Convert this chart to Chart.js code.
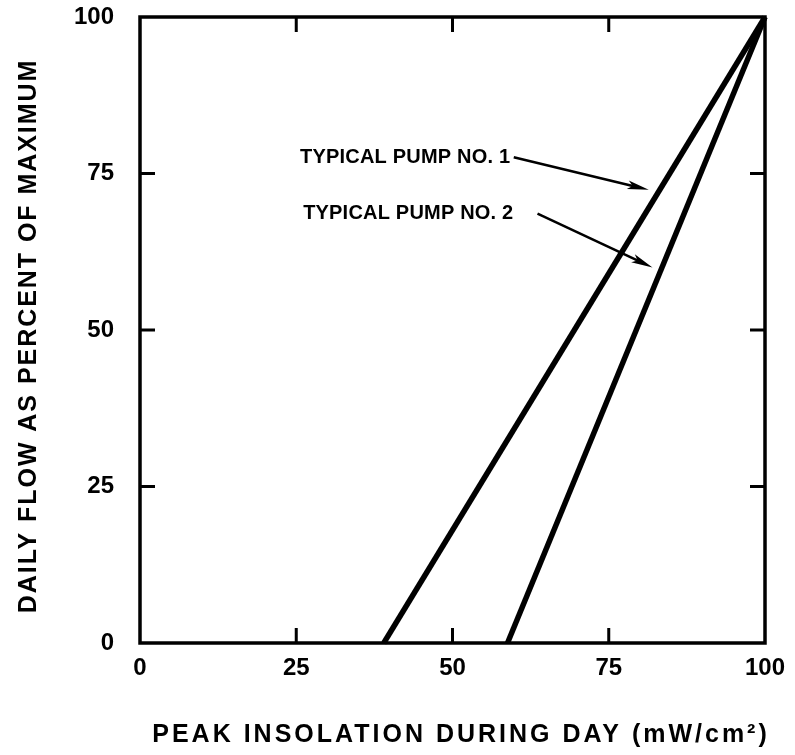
<!DOCTYPE html>
<html>
<head>
<meta charset="utf-8">
<script src="https://cdn.jsdelivr.net/npm/chart.js@4.4.1/dist/chart.umd.min.js"></script>
<style>
html,body{margin:0;padding:0;background:#fff;}
#wrap{width:795px;height:755px;position:relative;}
</style>
</head>
<body>
<div id="wrap"><canvas id="c" width="795" height="755"></canvas></div>
<script>
// ---- data ----
const xTickValues = [0, 25, 50, 75, 100];
const yTickValues = [0, 25, 50, 75, 100];
const pump1X = [39, 100];
const pump1Y = [0, 100];
const pump2X = [58.8, 100];
const pump2Y = [0, 100];
const seriesNames = ['TYPICAL PUMP NO. 1', 'TYPICAL PUMP NO. 2'];
const labelPos1 = [25.6, 77.6];
const arrow1 = [[59.8, 77.6], [81.4, 72.4]];
const labelPos2 = [26.1, 68.6];
const arrow2 = [[63.6, 68.6], [82.0, 60.0]];
const xTitle = 'PEAK INSOLATION DURING DAY (mW/cm²)';
const yTitle = 'DAILY FLOW AS PERCENT OF MAXIMUM';

const FONT = '"Liberation Sans", Arial, sans-serif';

const toPts = (xs, ys) => xs.map((x, i) => ({x: x, y: ys[i]}));

const framePlugin = {
  id: 'frame',
  afterDatasetsDraw(chart) {
    const {ctx, chartArea: a, scales: {x, y}} = chart;
    ctx.save();
    ctx.strokeStyle = '#000';
    ctx.lineWidth = 3.5;
    ctx.lineCap = 'square';
    ctx.strokeRect(a.left, a.top, a.right - a.left, a.bottom - a.top);
    // inward ticks
    ctx.lineWidth = 3;
    ctx.lineCap = 'butt';
    const tl = 15;
    ctx.beginPath();
    xTickValues.slice(1, -1).forEach(v => {
      const px = x.getPixelForValue(v);
      ctx.moveTo(px, a.bottom); ctx.lineTo(px, a.bottom - tl);
      ctx.moveTo(px, a.top); ctx.lineTo(px, a.top + tl);
    });
    yTickValues.slice(1, -1).forEach(v => {
      const py = y.getPixelForValue(v);
      ctx.moveTo(a.left, py); ctx.lineTo(a.left + tl, py);
      ctx.moveTo(a.right, py); ctx.lineTo(a.right - tl, py);
    });
    ctx.stroke();

    // annotations
    ctx.fillStyle = '#000';
    ctx.font = 'bold 20px ' + FONT;
    ctx.letterSpacing = '0.2px';
    ctx.textBaseline = 'middle';
    ctx.textAlign = 'left';
    const drawArrow = (arr) => {
      const x0 = x.getPixelForValue(arr[0][0]), y0 = y.getPixelForValue(arr[0][1]);
      const x1 = x.getPixelForValue(arr[1][0]), y1 = y.getPixelForValue(arr[1][1]);
      const ang = Math.atan2(y1 - y0, x1 - x0);
      const L = 22, W = 0.2;
      ctx.lineWidth = 2.5;
      ctx.beginPath(); ctx.moveTo(x0, y0);
      ctx.lineTo(x1 - L * 0.6 * Math.cos(ang), y1 - L * 0.6 * Math.sin(ang)); ctx.stroke();
      ctx.beginPath();
      ctx.moveTo(x1, y1);
      ctx.lineTo(x1 - L * Math.cos(ang - W), y1 - L * Math.sin(ang - W));
      ctx.lineTo(x1 - L * 0.75 * Math.cos(ang), y1 - L * 0.75 * Math.sin(ang));
      ctx.lineTo(x1 - L * Math.cos(ang + W), y1 - L * Math.sin(ang + W));
      ctx.closePath();
      ctx.fill();
    };
    ctx.fillText(seriesNames[0], x.getPixelForValue(labelPos1[0]), y.getPixelForValue(labelPos1[1]));
    ctx.fillText(seriesNames[1], x.getPixelForValue(labelPos2[0]), y.getPixelForValue(labelPos2[1]));
    drawArrow(arrow1);
    drawArrow(arrow2);

    // axis titles
    ctx.font = 'bold 25px ' + FONT;
    ctx.textAlign = 'center';
    ctx.textBaseline = 'middle';
    ctx.letterSpacing = '3px';
    ctx.fillText(xTitle, 461, 735);
    ctx.translate(29, 336);
    ctx.rotate(-Math.PI / 2);
    ctx.letterSpacing = '1.95px';
    ctx.fillText(yTitle, 0, 0);
    ctx.restore();
  }
};

new Chart(document.getElementById('c'), {
  type: 'scatter',
  data: {
    datasets: [
      {label: seriesNames[0], data: toPts(pump1X, pump1Y), showLine: true, borderColor: '#000', borderWidth: 5.5, pointRadius: 0, clip: false},
      {label: seriesNames[1], data: toPts(pump2X, pump2Y), showLine: true, borderColor: '#000', borderWidth: 5.5, pointRadius: 0, clip: false}
    ]
  },
  options: {
    responsive: false,
    animation: false,
    layout: {padding: {top: 17, right: 30, left: 0, bottom: 0}},
    plugins: {legend: {display: false}, tooltip: {enabled: false}},
    scales: {
      x: {
        type: 'linear', min: 0, max: 100,
        afterFit: s => { s.height = 112; s.paddingLeft = 0; s.paddingRight = 0; },
        grid: {display: false},
        border: {display: false},
        ticks: {stepSize: 25, padding: 3, color: '#000', font: {family: FONT, size: 24, weight: 'bold'}}
      },
      y: {
        type: 'linear', min: 0, max: 100,
        afterFit: s => { s.width = 140; s.paddingTop = 0; s.paddingBottom = 0; },
        grid: {display: false},
        border: {display: false},
        ticks: {stepSize: 25, padding: 18, color: '#000', font: {family: FONT, size: 24, weight: 'bold'}}
      }
    }
  },
  plugins: [framePlugin]
});
</script>
</body>
</html>
